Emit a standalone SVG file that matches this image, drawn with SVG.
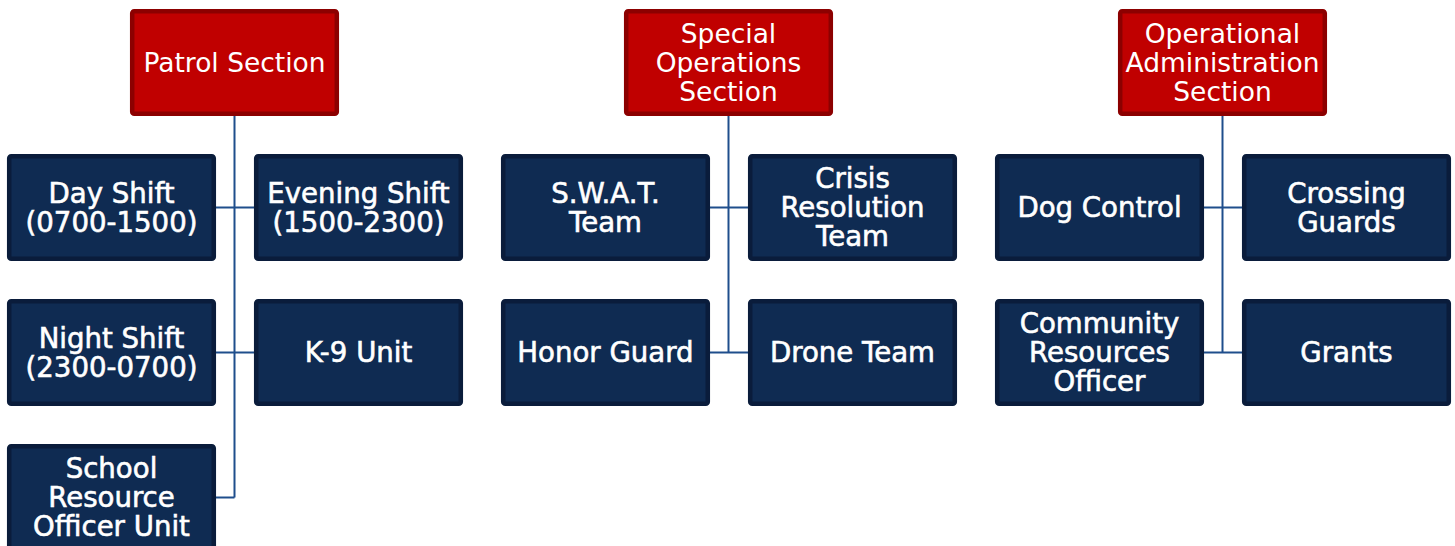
<svg xmlns="http://www.w3.org/2000/svg" width="1455" height="546" viewBox="0 0 1455 546">
<style>
.sec rect{fill:#C00000;stroke:#8C0000;stroke-width:4.5}
.unit rect{fill:#0F2B52;stroke:#0A1C3B;stroke-width:4.5}
text{font-family:"DejaVu Sans","Liberation Sans",sans-serif;fill:#FFFFFF;text-anchor:middle}
.sec text{font-size:26.5px}
.unit text{font-size:27.6px;stroke:#FFFFFF;stroke-width:0.6}
.conn line{stroke:#1F4E8C;stroke-width:2;fill:none}
</style>
<rect width="1455" height="546" fill="#FFFFFF"/>
<g class="conn" id="connectors">
<line x1="234.5" y1="116" x2="234.5" y2="497.5"/>
<line x1="216" y1="207.5" x2="254" y2="207.5"/>
<line x1="216" y1="352.5" x2="254" y2="352.5"/>
<line x1="216" y1="497.5" x2="234.5" y2="497.5"/>
<line x1="728.5" y1="116" x2="728.5" y2="352.5"/>
<line x1="710" y1="207.5" x2="748" y2="207.5"/>
<line x1="710" y1="352.5" x2="748" y2="352.5"/>
<line x1="1222.5" y1="116" x2="1222.5" y2="352.5"/>
<line x1="1204" y1="207.5" x2="1242" y2="207.5"/>
<line x1="1204" y1="352.5" x2="1242" y2="352.5"/>
</g>
<g class="sec" id="patrol-section"><rect x="132.2" y="11.2" width="204.6" height="102.6" rx="2"/><text x="234.5" y="72">Patrol Section</text></g>
<g class="sec" id="special-operations-section"><rect x="626.2" y="11.2" width="204.6" height="102.6" rx="2"/><text x="728.5" y="43"><tspan x="728.5">Special</tspan><tspan x="728.5" dy="29">Operations</tspan><tspan x="728.5" dy="29">Section</tspan></text></g>
<g class="sec" id="operational-administration-section"><rect x="1120.2" y="11.2" width="204.6" height="102.6" rx="2"/><text x="1222.5" y="43"><tspan x="1222.5">Operational</tspan><tspan x="1222.5" dy="29">Administration</tspan><tspan x="1222.5" dy="29">Section</tspan></text></g>

<g class="unit" id="day-shift"><rect x="9.2" y="156.2" width="204.6" height="102.6" rx="2"/><text x="111.5" y="202.5"><tspan x="111.5">Day Shift</tspan><tspan x="111.5" dy="29">(0700-1500)</tspan></text></g>
<g class="unit" id="evening-shift"><rect x="256.2" y="156.2" width="204.6" height="102.6" rx="2"/><text x="358.5" y="202.5"><tspan x="358.5">Evening Shift</tspan><tspan x="358.5" dy="29">(1500-2300)</tspan></text></g>
<g class="unit" id="night-shift"><rect x="9.2" y="301.2" width="204.6" height="102.6" rx="2"/><text x="111.5" y="347.5"><tspan x="111.5">Night Shift</tspan><tspan x="111.5" dy="29">(2300-0700)</tspan></text></g>
<g class="unit" id="k9-unit"><rect x="256.2" y="301.2" width="204.6" height="102.6" rx="2"/><text x="358.5" y="362">K-9 Unit</text></g>
<g class="unit" id="school-resource-officer-unit"><rect x="9.2" y="446.2" width="204.6" height="102.6" rx="2"/><text x="111.5" y="477.5"><tspan x="111.5">School</tspan><tspan x="111.5" dy="29">Resource</tspan><tspan x="111.5" dy="29">Officer Unit</tspan></text></g>

<g class="unit" id="swat-team"><rect x="503.2" y="156.2" width="204.6" height="102.6" rx="2"/><text x="605.5" y="202.5"><tspan x="605.5">S.W.A.T.</tspan><tspan x="605.5" dy="29">Team</tspan></text></g>
<g class="unit" id="crisis-resolution-team"><rect x="750.2" y="156.2" width="204.6" height="102.6" rx="2"/><text x="852.5" y="187.5"><tspan x="852.5">Crisis</tspan><tspan x="852.5" dy="29">Resolution</tspan><tspan x="852.5" dy="29">Team</tspan></text></g>
<g class="unit" id="honor-guard"><rect x="503.2" y="301.2" width="204.6" height="102.6" rx="2"/><text x="605.5" y="362">Honor Guard</text></g>
<g class="unit" id="drone-team"><rect x="750.2" y="301.2" width="204.6" height="102.6" rx="2"/><text x="852.5" y="362">Drone Team</text></g>

<g class="unit" id="dog-control"><rect x="997.2" y="156.2" width="204.6" height="102.6" rx="2"/><text x="1099.5" y="217">Dog Control</text></g>
<g class="unit" id="crossing-guards"><rect x="1244.2" y="156.2" width="204.6" height="102.6" rx="2"/><text x="1346.5" y="202.5"><tspan x="1346.5">Crossing</tspan><tspan x="1346.5" dy="29">Guards</tspan></text></g>
<g class="unit" id="community-resources-officer"><rect x="997.2" y="301.2" width="204.6" height="102.6" rx="2"/><text x="1099.5" y="332.5"><tspan x="1099.5">Community</tspan><tspan x="1099.5" dy="29">Resources</tspan><tspan x="1099.5" dy="29">Officer</tspan></text></g>
<g class="unit" id="grants"><rect x="1244.2" y="301.2" width="204.6" height="102.6" rx="2"/><text x="1346.5" y="362">Grants</text></g>
</svg>
